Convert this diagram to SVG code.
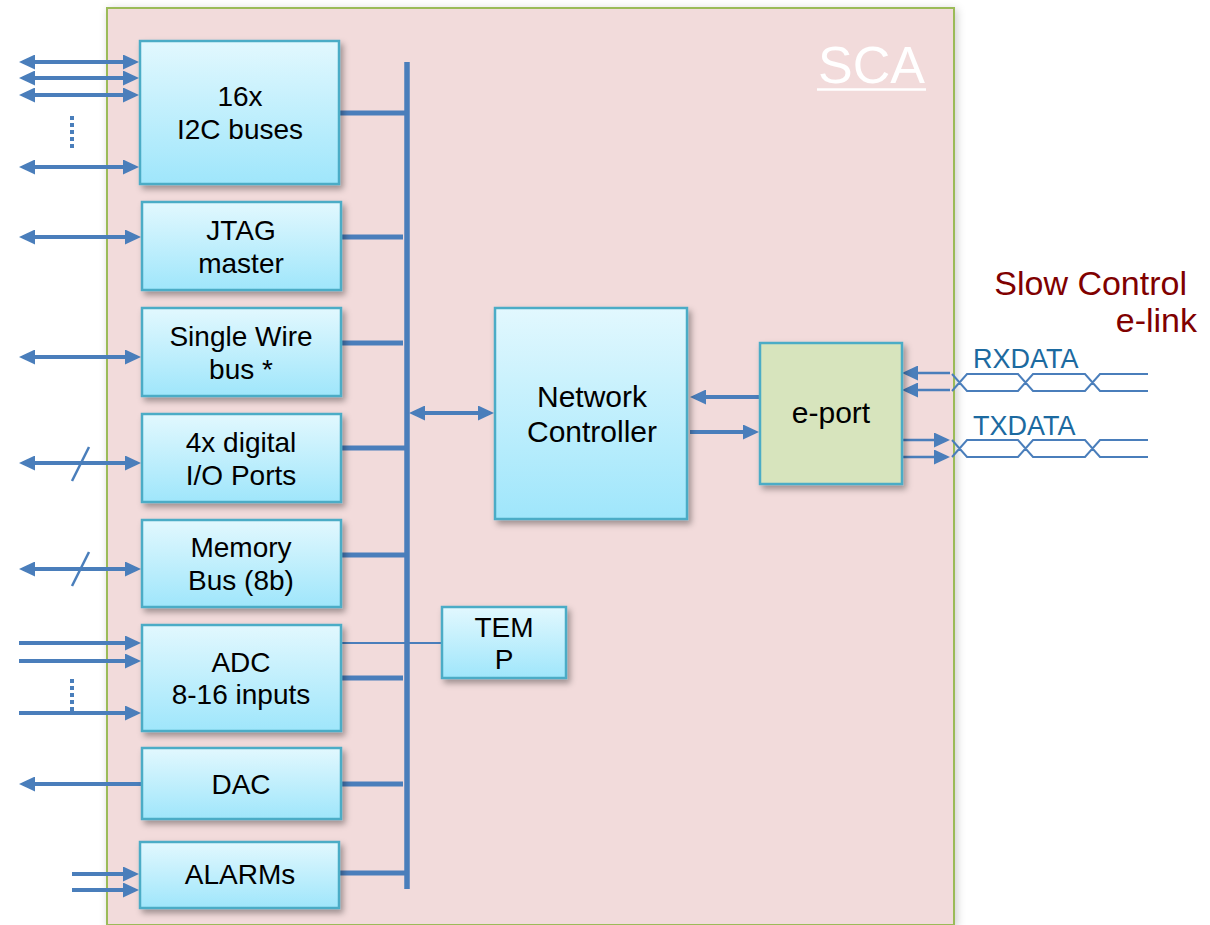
<svg xmlns="http://www.w3.org/2000/svg" width="1210" height="925" viewBox="0 0 1210 925">
<defs>
<linearGradient id="blk" x1="0" y1="0" x2="0" y2="1">
<stop offset="0" stop-color="#e2f8fe"/>
<stop offset="1" stop-color="#9fe6fb"/>
</linearGradient>
<filter id="sh" x="-10%" y="-10%" width="130%" height="130%">
<feDropShadow dx="3" dy="4" stdDeviation="3" flood-color="#000" flood-opacity="0.35"/>
</filter>
<filter id="sh2" x="-5%" y="-5%" width="110%" height="110%">
<feDropShadow dx="2" dy="2" stdDeviation="4" flood-color="#000" flood-opacity="0.2"/>
</filter>
<marker id="ah" viewBox="0 0 16 15" refX="12" refY="7.5" markerWidth="16" markerHeight="15" markerUnits="userSpaceOnUse" orient="auto-start-reverse">
<path d="M0,0 L16,7.5 L0,15 z" fill="#4a7ebb"/>
</marker>
</defs>
<style>
.blk{fill:url(#blk);stroke:#4bacc6;stroke-width:2.5;filter:url(#sh)}
.ep{fill:#d7e4bd;stroke:#4bacc6;stroke-width:2.5;filter:url(#sh)}
.t{font-family:"Liberation Sans",Arial,sans-serif;font-size:28px;fill:#000;text-anchor:middle}
.big{font-size:30px}
.w{stroke:#4a7ebb;fill:none}
.th{stroke-width:5}
.ar{stroke-width:4}
.tn{stroke-width:2.2}
.dot{stroke:#4a7ebb;stroke-width:4;stroke-dasharray:4 3;fill:none}
.lbl{font-family:"Liberation Sans",Arial,sans-serif;font-size:27px;fill:#1c6aa0}
.sc{font-family:"Liberation Sans",Arial,sans-serif;font-size:34px;fill:#800000;text-anchor:end}
</style>
<rect width="1210" height="925" fill="#fff"/>
<g id="sca">
<rect x="107" y="8" width="847" height="917" fill="#f2dbdb" stroke="#9bbb59" stroke-width="2" filter="url(#sh2)"/>
<text x="818" y="83" font-family="Liberation Sans,Arial,sans-serif" font-size="52" fill="#fff">SCA</text>
<line x1="817" y1="89.5" x2="926" y2="89.5" stroke="#fff" stroke-width="2.5"/>
</g>
<g id="connectors">
<line class="w" x1="407" y1="62" x2="407" y2="889" stroke-width="5.5"/>
<line class="w th" x1="339" y1="113" x2="407" y2="113"/>
<line class="w th" x1="342" y1="237" x2="403" y2="237"/>
<line class="w th" x1="337" y1="343" x2="403" y2="343"/>
<line class="w th" x1="342" y1="448" x2="407" y2="448"/>
<line class="w th" x1="342" y1="555" x2="407" y2="555"/>
<line class="w th" x1="337" y1="678" x2="403" y2="678"/>
<line class="w th" x1="337" y1="784" x2="403" y2="784"/>
<line class="w th" x1="339" y1="873" x2="407" y2="873"/>
<line class="w tn" x1="337" y1="643" x2="442" y2="643"/>
<line class="w ar" x1="413" y1="413" x2="490" y2="413" marker-start="url(#ah)" marker-end="url(#ah)"/>
<line class="w ar" x1="759" y1="397" x2="694" y2="397" marker-end="url(#ah)"/>
<line class="w ar" x1="690" y1="432" x2="755" y2="432" marker-end="url(#ah)"/>
<line class="w ar" x1="23" y1="62" x2="135" y2="62" marker-start="url(#ah)" marker-end="url(#ah)"/>
<line class="w ar" x1="23" y1="78" x2="135" y2="78" marker-start="url(#ah)" marker-end="url(#ah)"/>
<line class="w ar" x1="23" y1="95" x2="135" y2="95" marker-start="url(#ah)" marker-end="url(#ah)"/>
<line class="w ar" x1="23" y1="167" x2="135" y2="167" marker-start="url(#ah)" marker-end="url(#ah)"/>
<line class="dot" x1="72" y1="116" x2="72" y2="149"/>
<line class="w ar" x1="23" y1="237" x2="137" y2="237" marker-start="url(#ah)" marker-end="url(#ah)"/>
<line class="w ar" x1="23" y1="357" x2="137" y2="357" marker-start="url(#ah)" marker-end="url(#ah)"/>
<line class="w ar" x1="23" y1="463" x2="137" y2="463" marker-start="url(#ah)" marker-end="url(#ah)"/>
<line class="w" stroke-width="2.5" x1="72" y1="481" x2="89" y2="447"/>
<line class="w ar" x1="23" y1="569" x2="137" y2="569" marker-start="url(#ah)" marker-end="url(#ah)"/>
<line class="w" stroke-width="2.5" x1="72" y1="586" x2="89" y2="552"/>
<line class="w ar" x1="19" y1="643" x2="137" y2="643" marker-end="url(#ah)"/>
<line class="w ar" x1="19" y1="661" x2="137" y2="661" marker-end="url(#ah)"/>
<line class="w ar" x1="19" y1="713" x2="137" y2="713" marker-end="url(#ah)"/>
<line class="dot" x1="72" y1="679" x2="72" y2="711"/>
<line class="w ar" x1="141" y1="784" x2="23" y2="784" marker-end="url(#ah)"/>
<line class="w ar" x1="72" y1="874" x2="135" y2="874" marker-end="url(#ah)"/>
<line class="w ar" x1="72" y1="890" x2="135" y2="890" marker-end="url(#ah)"/>
<line class="w" stroke-width="2.5" x1="950" y1="373" x2="906" y2="373" marker-end="url(#ah)"/>
<line class="w" stroke-width="2.5" x1="950" y1="390" x2="906" y2="390" marker-end="url(#ah)"/>
<line class="w" stroke-width="2.5" x1="902" y1="440" x2="946" y2="440" marker-end="url(#ah)"/>
<line class="w" stroke-width="2.5" x1="902" y1="457" x2="946" y2="457" marker-end="url(#ah)"/>
<path class="w" stroke-width="2" d="M952,374 L967,391 L1018,391 L1033,374 L1085,374 L1100,391 L1148,391 M952,391 L967,374 L1018,374 L1033,391 L1085,391 L1100,374 L1148,374"/>
<path class="w" stroke-width="2" d="M952,440 L967,457 L1018,457 L1033,440 L1085,440 L1100,457 L1148,457 M952,457 L967,440 L1018,440 L1033,457 L1085,457 L1100,440 L1148,440"/>
</g>
<g id="i2c"><rect class="blk" x="140" y="41" width="199" height="143"/><text class="t" x="240" y="106">16x</text><text class="t" x="240" y="139">I2C buses</text></g>
<g id="jtag"><rect class="blk" x="142" y="202" width="199" height="88"/><text class="t" x="241" y="239.5">JTAG</text><text class="t" x="241" y="272.5">master</text></g>
<g id="singlewire"><rect class="blk" x="142" y="308" width="199" height="88"/><text class="t" x="241" y="345.5">Single Wire</text><text class="t" x="241" y="378.5">bus *</text></g>
<g id="gpio"><rect class="blk" x="142" y="414" width="199" height="88"/><text class="t" x="241" y="451.5">4x digital</text><text class="t" x="241" y="484.5">I/O Ports</text></g>
<g id="memory"><rect class="blk" x="142" y="520" width="199" height="87"/><text class="t" x="241" y="557">Memory</text><text class="t" x="241" y="590">Bus (8b)</text></g>
<g id="adc"><rect class="blk" x="142" y="625" width="199" height="106"/><text class="t" x="241" y="672">ADC</text><text class="t" x="241" y="704">8-16 inputs</text></g>
<g id="dac"><rect class="blk" x="142" y="748" width="199" height="71"/><text class="t" x="241" y="794">DAC</text></g>
<g id="alarms"><rect class="blk" x="140" y="842" width="199" height="66"/><text class="t" x="240" y="884">ALARMs</text></g>
<g id="temp"><rect class="blk" x="442" y="607" width="124" height="71"/><text class="t" x="504" y="637">TEM</text><text class="t" x="504" y="669">P</text></g>
<g id="netctrl"><rect class="blk" x="495" y="308" width="192" height="211"/><text class="t big" x="592" y="407">Network</text><text class="t big" x="592" y="442">Controller</text></g>
<g id="eport"><rect class="ep" x="760" y="343" width="142" height="141"/><text class="t big" x="831" y="423">e-port</text></g>
<g id="labels">
<text class="lbl" x="973" y="368">RXDATA</text>
<text class="lbl" x="973" y="435">TXDATA</text>
<text class="sc" x="1187" y="295">Slow Control</text>
<text class="sc" x="1197" y="332">e-link</text>
</g>
</svg>
